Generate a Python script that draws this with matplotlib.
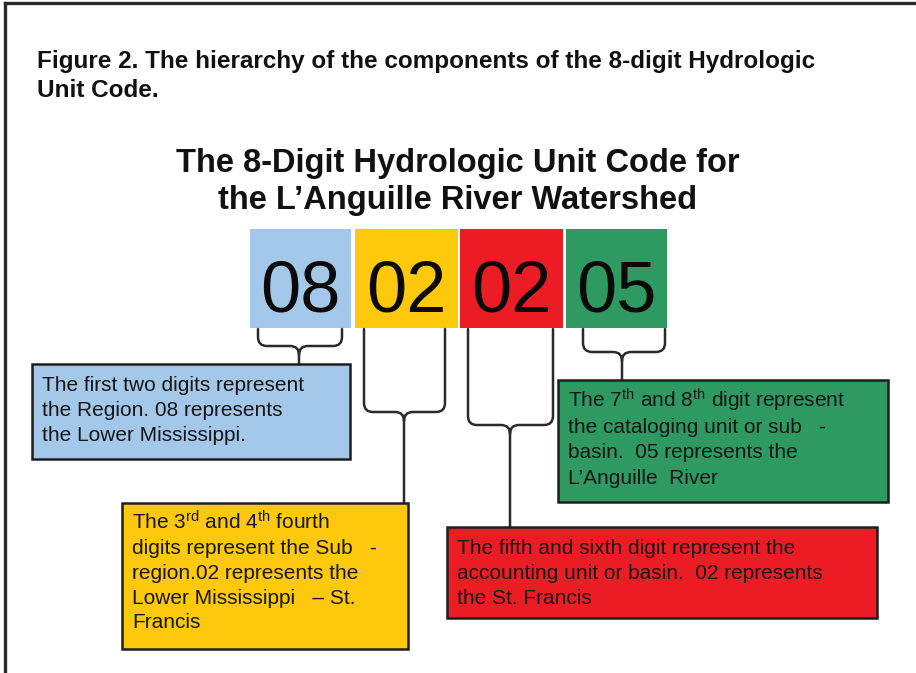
import matplotlib
matplotlib.use("Agg")
import matplotlib.pyplot as plt
from matplotlib.patches import Rectangle, PathPatch
from matplotlib.path import Path

plt.rcParams['font.family'] = ['Liberation Sans', 'DejaVu Sans']
plt.rcParams['mathtext.default'] = 'regular'

fig_title = ["Figure 2. The hierarchy of the components of the 8-digit Hydrologic",
             "Unit Code."]
chart_title = ["The 8-Digit Hydrologic Unit Code for",
               "the L\u2019Anguille River Watershed"]

digits = ["08", "02", "02", "05"]
colors = ["#a3c8ea", "#fec80c", "#ec1c24", "#2e9a62"]

notes = [
    ["The first two digits represent",
     "the Region. 08 represents",
     "the Lower Mississippi."],
    ["The 3$^{rd}$ and 4$^{th}$ fourth",
     "digits represent the Sub   -",
     "region.02 represents the",
     "Lower Mississippi   \u2013 St.",
     "Francis"],
    ["The fifth and sixth digit represent the",
     "accounting unit or basin.  02 represents",
     "the St. Francis"],
    ["The 7$^{th}$ and 8$^{th}$ digit represent",
     "the cataloging unit or sub   -",
     "basin.  05 represents the",
     "L\u2019Anguille  River"],
]

# layout in pixels (x0, x1) of the digit boxes
digit_x = [(250, 351), (355, 458), (460, 563), (566, 667)]
digit_y = (229, 328)
# brace: left, right, y of bar, stem x, stem bottom
braces = [(258, 342, 346, 299, 364),
          (364, 445, 412, 404, 503),
          (468, 553, 425, 510, 527),
          (583, 665, 352, 622, 380)]
# note boxes: x0, x1, y0, y1, first baseline, line step
note_boxes = [(32, 350, 364, 459, 391, 25),
              (122, 408, 503, 649, 530, 24.5),
              (447, 877, 527, 618, 554, 25),
              (558, 888, 380, 502, 407, 25.7)]


def draw_brace(ax, xl, xr, ym, xs, yb, ytop=329, r=9):
    P = Path
    verts = [(xl, ytop), (xl, ym - r), (xl, ym), (xl + r, ym),
             (xs - r, ym), (xs, ym), (xs, ym + r), (xs, yb)]
    codes = [P.MOVETO, P.LINETO, P.CURVE3, P.CURVE3,
             P.LINETO, P.CURVE3, P.CURVE3, P.LINETO]
    verts += [(xr, ytop), (xr, ym - r), (xr, ym), (xr - r, ym),
              (xs + r, ym), (xs, ym), (xs, ym + r)]
    codes += [P.MOVETO, P.LINETO, P.CURVE3, P.CURVE3,
              P.LINETO, P.CURVE3, P.CURVE3]
    ax.add_patch(PathPatch(Path(verts, codes), fill=False,
                           edgecolor="#2b2b2b", lw=1.8, capstyle='round'))


fig = plt.figure(figsize=(9.16, 6.73), dpi=100)
ax = fig.add_axes([0, 0, 1, 1])
ax.set_xlim(0, 916)
ax.set_ylim(673, 0)
ax.axis('off')

# frame
ax.plot([5, 916], [3, 3], color="#2a2a2a", lw=2.4)
ax.plot([5, 5], [3, 673], color="#2a2a2a", lw=2.4)

for i, line in enumerate(fig_title):
    ax.text(37, 68 + i * 29, line, fontsize=17.5, fontweight='bold',
            va='baseline', ha='left', color="#111111")

for i, line in enumerate(chart_title):
    ax.text(458, 172 + i * 37, line, fontsize=23.5, fontweight='bold',
            va='baseline', ha='center', color="#111111")

for (x0, x1), c, d in zip(digit_x, colors, digits):
    ax.add_patch(Rectangle((x0, digit_y[0]), x1 - x0, digit_y[1] - digit_y[0],
                           facecolor=c, edgecolor='none'))
    ax.text((x0 + x1) / 2, 311, d, fontsize=52, ha='center', va='baseline',
            color="#0a0a0a")

for b in braces:
    draw_brace(ax, *b)

for (x0, x1, y0, y1, yb, step), c, lines in zip(note_boxes, colors, notes):
    ax.add_patch(Rectangle((x0, y0), x1 - x0, y1 - y0, facecolor=c,
                           edgecolor="#1e1e1e", lw=1.8))
    for j, line in enumerate(lines):
        ax.text(x0 + 10, yb + j * step, line, fontsize=15, ha='left',
                va='baseline', color="#161616")

fig.savefig("out.png", dpi=100)
